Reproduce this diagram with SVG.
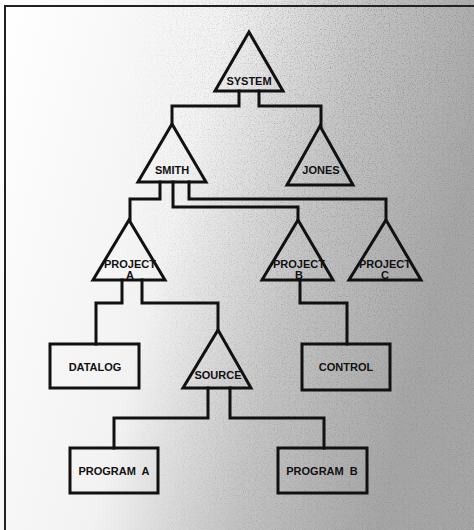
<svg xmlns="http://www.w3.org/2000/svg" width="474" height="530" viewBox="0 0 474 530">
<defs>
<linearGradient id="bg" x1="0" y1="0" x2="1" y2="0.3">
<stop offset="0" stop-color="#ffffff"/>
<stop offset="0.45" stop-color="#f2f2f2"/>
<stop offset="0.72" stop-color="#c4c4c4"/>
<stop offset="1" stop-color="#a6a6a6"/>
</linearGradient>
<filter id="noise" x="0" y="0" width="100%" height="100%">
<feTurbulence type="fractalNoise" baseFrequency="0.85" numOctaves="2" seed="7" result="t"/>
<feColorMatrix type="matrix" values="0 0 0 0 0.3  0 0 0 0 0.3  0 0 0 0 0.3  0 0 0 -3 1.55"/>
</filter>
<linearGradient id="fade" x1="0" y1="0" x2="1" y2="0">
<stop offset="0.25" stop-color="#fff" stop-opacity="0"/>
<stop offset="0.75" stop-color="#fff" stop-opacity="0.7"/>
<stop offset="1" stop-color="#fff" stop-opacity="0.9"/>
</linearGradient>
<mask id="m"><rect width="474" height="530" fill="url(#fade)"/></mask>
</defs>
<style>
.ln{fill:none;stroke:#111;stroke-width:3;stroke-linejoin:miter;stroke-linecap:square}
.nd{fill:none;stroke:#111;stroke-width:3;stroke-linejoin:miter}
.tx{font-family:"Liberation Sans",Arial,sans-serif;font-weight:bold;font-size:11px;fill:#111;text-anchor:middle}
</style>
<rect width="474" height="530" fill="url(#bg)"/>
<rect width="474" height="530" filter="url(#noise)" mask="url(#m)"/>
<path d="M5,530 V6 H474" fill="none" stroke="#222" stroke-width="2"/>
<g id="connectors">
<path class="ln" d="M239,91 V106 H172 V125"/>
<path class="ln" d="M259,91 V106 H321 V127"/>
<path class="ln" d="M160,182 V199 H130 V220"/>
<path class="ln" d="M173,182 V207 H298 V220"/>
<path class="ln" d="M189,182 V199 H386 V220"/>
<path class="ln" d="M122,280 V303 H96 V344"/>
<path class="ln" d="M142,280 V303 H218 V330"/>
<path class="ln" d="M300,280 V303 H347 V344"/>
<path class="ln" d="M208,388 V418 H114 V448"/>
<path class="ln" d="M230,388 V418 H324 V448"/>
</g>
<g id="system"><polygon class="nd" points="249,32 283,91 215,91"/><text class="tx" x="249" y="85">SYSTEM</text></g>
<g id="smith"><polygon class="nd" points="172,124 206,182 138,182"/><text class="tx" x="172" y="174">SMITH</text></g>
<g id="jones"><polygon class="nd" points="320,126 353,185 287,185"/><text class="tx" x="321" y="174">JONES</text></g>
<g id="projectA"><polygon class="nd" points="129,220 165,280 93,280"/><text class="tx" x="130" y="268">PROJECT</text><text class="tx" x="130" y="279">A</text></g>
<g id="projectB"><polygon class="nd" points="298,220 333,280 262,280"/><text class="tx" x="299" y="268">PROJECT</text><text class="tx" x="299" y="279">B</text></g>
<g id="projectC"><polygon class="nd" points="386,220 421,280 349,280"/><text class="tx" x="385" y="268">PROJECT</text><text class="tx" x="385" y="279">C</text></g>
<g id="datalog"><rect class="nd" x="50" y="344" width="89" height="44"/><text class="tx" x="95" y="371">DATALOG</text></g>
<g id="source"><polygon class="nd" points="218,330 251,388 183,388"/><text class="tx" x="218" y="379">SOURCE</text></g>
<g id="control"><rect class="nd" x="302" y="344" width="88" height="46"/><text class="tx" x="346" y="371">CONTROL</text></g>
<g id="programA"><rect class="nd" x="70" y="448" width="88" height="45"/><text class="tx" x="114" y="475" xml:space="preserve">PROGRAM  A</text></g>
<g id="programB"><rect class="nd" x="278" y="448" width="89" height="45"/><text class="tx" x="322" y="475" xml:space="preserve">PROGRAM  B</text></g>
</svg>
